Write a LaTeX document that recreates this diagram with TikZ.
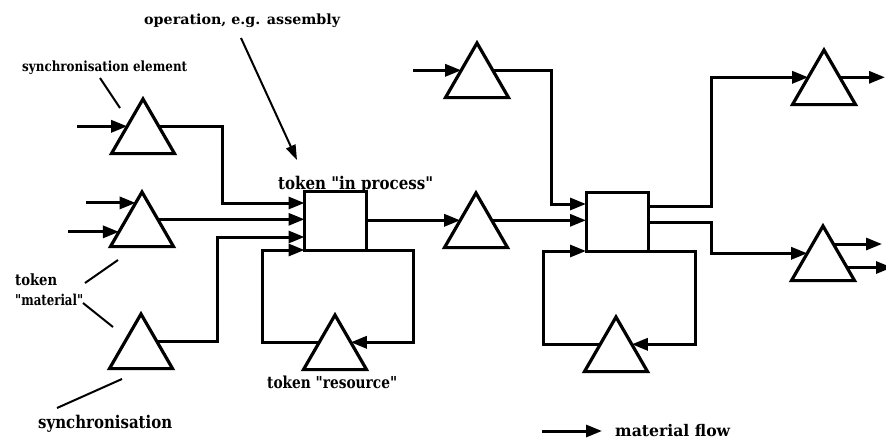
\documentclass[tikz,border=0pt]{standalone}
\usepackage{fontspec}
\usepackage{graphicx}
\setmainfont{DejaVu Serif}[Ligatures=TeXOff]
\usetikzlibrary{shapes.geometric,arrows.meta,calc}
% label text: target width, font size, text
\newcommand{\mylab}[3]{\resizebox{#1}{\height}{\fontsize{#2}{#2}\selectfont\bfseries #3}}
\begin{document}
\begin{tikzpicture}[x=1pt,y=-1pt,
  tok/.style={regular polygon, regular polygon sides=3, minimum size=72.8pt,
    inner sep=0pt, outer sep=0pt, draw, line width=3.2pt, line join=miter},
  opbox/.style={draw, line width=3pt, minimum width=62pt, minimum height=59pt,
    inner sep=0pt, outer sep=0pt},
  flow/.style={line width=3pt, -{Triangle[length=16pt,width=12pt]}},
  note/.style={line width=2pt},
  lbl/.style={anchor=base west, inner sep=0pt},
]
\useasboundingbox (0,0) rectangle (886,444);

% token / synchronisation triangles
\node[tok] (T1) at (143,135.4) {};
\node[tok] (T2) at (142,228.4) {};
\node[tok] (T3) at (141,350.4) {};
\node[tok] (R1) at (335,351.4) {};
\node[tok] (T4) at (476,229.4) {};
\node[tok] (T5) at (477,79.4) {};
\node[tok] (R2) at (616,353.4) {};
\node[tok] (T6) at (824,86.4) {};
\node[tok] (T7) at (823,262.4) {};
% operations
\node[opbox] (B1) at (335.5,220.5) {};
\node[opbox] (B2) at (617,221.5) {};

\foreach \t in {T1,T2,T3,R1,T4,T5,R2,T6,T7}{
  \coordinate (\t-l) at ($(\t.corner 1)!0.5!(\t.corner 2)$);
  \coordinate (\t-r) at ($(\t.corner 1)!0.5!(\t.corner 3)$);
}
\coordinate (T2a) at ($(T2.corner 1)!0.2!(T2.corner 2)$);
\coordinate (T2b) at ($(T2.corner 1)!0.73!(T2.corner 2)$);
\coordinate (T7a) at ($(T7.corner 1)!0.33!(T7.corner 3)$);
\coordinate (T7b) at ($(T7.corner 1)!0.76!(T7.corner 3)$);

% inputs
\draw[flow] (T1-l -| 77,0) -- (T1-l);
\draw[flow] (T2a -| 86,0) -- (T2a);
\draw[flow] (T2b -| 68,0) -- (T2b);
\draw[flow] (T5-l -| 413,0) -- (T5-l);

% into operation 1
\draw[flow] (T1-r) -| (222,203) -- (B1.west |- 0,203);
\draw[flow] (T2-r) -- (B1.west |- T2-r);
\draw[flow] (T3-r) -| (217,237) -- (B1.west |- 0,237);
\draw[flow] (B1.south east) -- (413,250) |- (R1-r);
\draw[flow] (R1-l) -| (262,250) -- (B1.south west);

% operation 1 -> 2
\draw[flow] (B1.east |- T4-l) -- (T4-l);
\draw[flow] (T4-r) -- (B2.west |- T4-r);
\draw[flow] (T5-r) -| (551,204) -- (B2.west |- 0,204);
\draw[flow] (B2.south east) -- (695,251) |- (R2-r);
\draw[flow] (R2-l) -| (543,251) -- (B2.south west);

% outputs
\draw[flow] (B2.east |- 0,206) -- (711,206) |- (T6-l);
\draw[flow] (B2.east |- 0,222) -- (711,222) |- (T7-l);
\draw[flow] (T6-r) -- (T6-r -| 885,0);
\draw[flow] (T7a) -- (T7a -| 882,0);
\draw[flow] (T7b) -- (T7b -| 892,0);

% annotations
\coordinate (opA) at (241,38);
\coordinate (opB) at (297,160);
\draw[note,-{Triangle[length=15pt,width=10pt]}] (opA) -- (opB);
\coordinate (seA) at (100,78);
\coordinate (seB) at (120,108);
\draw[note] (seA) -- (seB);
\coordinate (tm1A) at (85,283);
\coordinate (tm1B) at (118,260);
\draw[note] (tm1A) -- (tm1B);
\coordinate (tm2A) at (83,303);
\coordinate (tm2B) at (113,327);
\draw[note] (tm2A) -- (tm2B);
\coordinate (syA) at (57,408);
\coordinate (syB) at (122,379);
\draw[note] (syA) -- (syB);

% labels
\node[lbl] (lop) at (144,25) {\mylab{196pt}{14}{operation, e.g. assembly}};
\node[lbl] (lse) at (22,72) {\mylab{165pt}{14}{synchronisation element}};
\node[lbl] (lip) at (278,189) {\mylab{155pt}{17.5}{token "in process"}};
\node[lbl] (ltk) at (15,285) {\mylab{42pt}{15.5}{token}};
\node[lbl] (lmt) at (15,305) {\mylab{68pt}{15}{"material"}};
\node[lbl] (lsy) at (38,428) {\mylab{134pt}{17.5}{synchronisation}};
\node[lbl] (lrs) at (267,388) {\mylab{130pt}{16.5}{token "resource"}};

% legend
\coordinate (lgA) at (542,431);
\coordinate (lgB) at (602,431);
\draw[flow] (lgA) -- (lgB);
\node[lbl] (lmf) at (615,436) {\mylab{115pt}{16}{material flow}};
\end{tikzpicture}
\end{document}
